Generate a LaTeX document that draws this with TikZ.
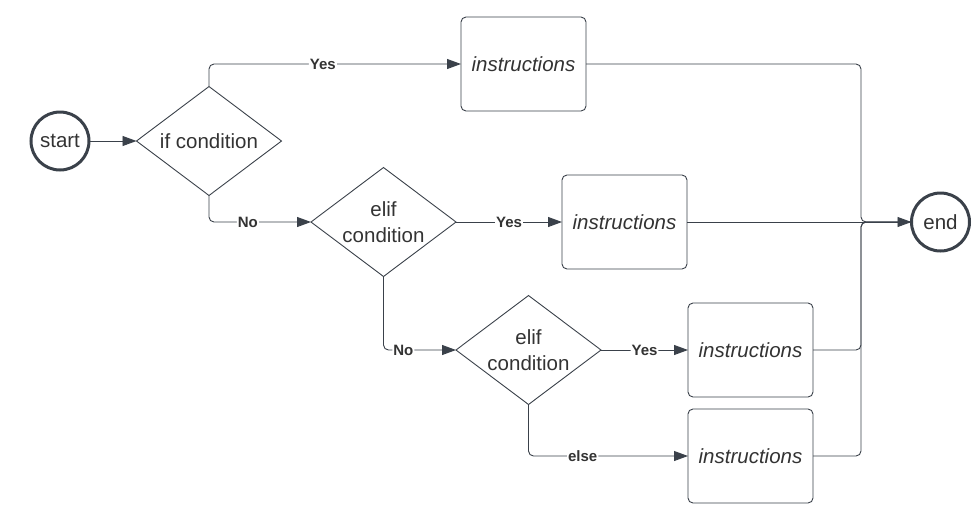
\documentclass[tikz,border=0pt]{standalone}
\usepackage{fontspec}
\setmainfont{Liberation Sans}
\usetikzlibrary{shapes.geometric,arrows.meta}
\definecolor{ink}{RGB}{58,65,74}
\definecolor{txt}{RGB}{51,51,51}
\begin{document}
\begin{tikzpicture}[x=1pt,y=-1pt,
  term/.style={circle,draw=ink,line width=3pt,minimum size=58pt,inner sep=0pt,outer sep=0pt,text=txt,font=\fontsize{20.5}{24}\selectfont},
  cond/.style={diamond,draw=ink,line width=0.9pt,aspect=1.33,minimum width=145pt,minimum height=109pt,inner sep=-3pt,outer sep=0pt,text=txt,align=center,font=\fontsize{20.5}{26}\selectfont},
  instr/.style={rectangle,rounded corners=5pt,draw=ink,line width=0.9pt,minimum width=125pt,minimum height=94pt,outer sep=0pt,text=txt,font=\fontsize{20.5}{24}\selectfont\itshape},
  conn/.style={draw=ink,line width=0.9pt,rounded corners=5pt,-{Triangle[length=14pt,width=10pt]}},
  plain/.style={draw=ink,line width=0.9pt,rounded corners=5pt},
  lbl/.style={fill=white,inner sep=1pt,text=txt,font=\fontsize{15}{18}\selectfont\bfseries}
]
\useasboundingbox (0,0) rectangle (978,523);
\node[term] (start) at (60,141) {start};
\node[cond] (if) at (209,141) {if condition};
\node[instr] (b1) at (523.5,64) {instructions};
\node[cond] (d1) at (383.5,222) {elif\\condition};
\node[instr] (b2) at (624.5,222) {instructions};
\node[cond] (d2) at (528.5,350) {elif\\condition};
\node[instr] (b3) at (750.5,350) {instructions};
\node[instr] (b4) at (750.5,456) {instructions};
\node[term] (end) at (940.5,222) {end};
\coordinate (j) at (861,222);

\draw[conn] (start) -- (if.west);
\draw[conn] (if.north) |- (b1.west) node[lbl,pos=0.726] {Yes};
\draw[conn] (if.south) |- (d1.west) node[lbl,pos=0.69] {No};
\draw[conn] (d1.east) -- (b2.west) node[lbl,pos=0.5] {Yes};
\draw[conn] (d1.south) |- (d2.west) node[lbl,pos=0.637] {No};
\draw[conn] (d2.east) -- (b3.west) node[lbl,pos=0.5] {Yes};
\draw[conn] (d2.south) |- (b4.west) node[lbl,pos=0.67] {else};

\draw[plain] (b1.east) -| (j) -- (end.west);
\draw[plain] (b3.east) -| (j) -- (end.west);
\draw[plain] (b4.east) -| (j) -- (end.west);
\draw[conn] (b2.east) -- (end.west);
\end{tikzpicture}
\end{document}
